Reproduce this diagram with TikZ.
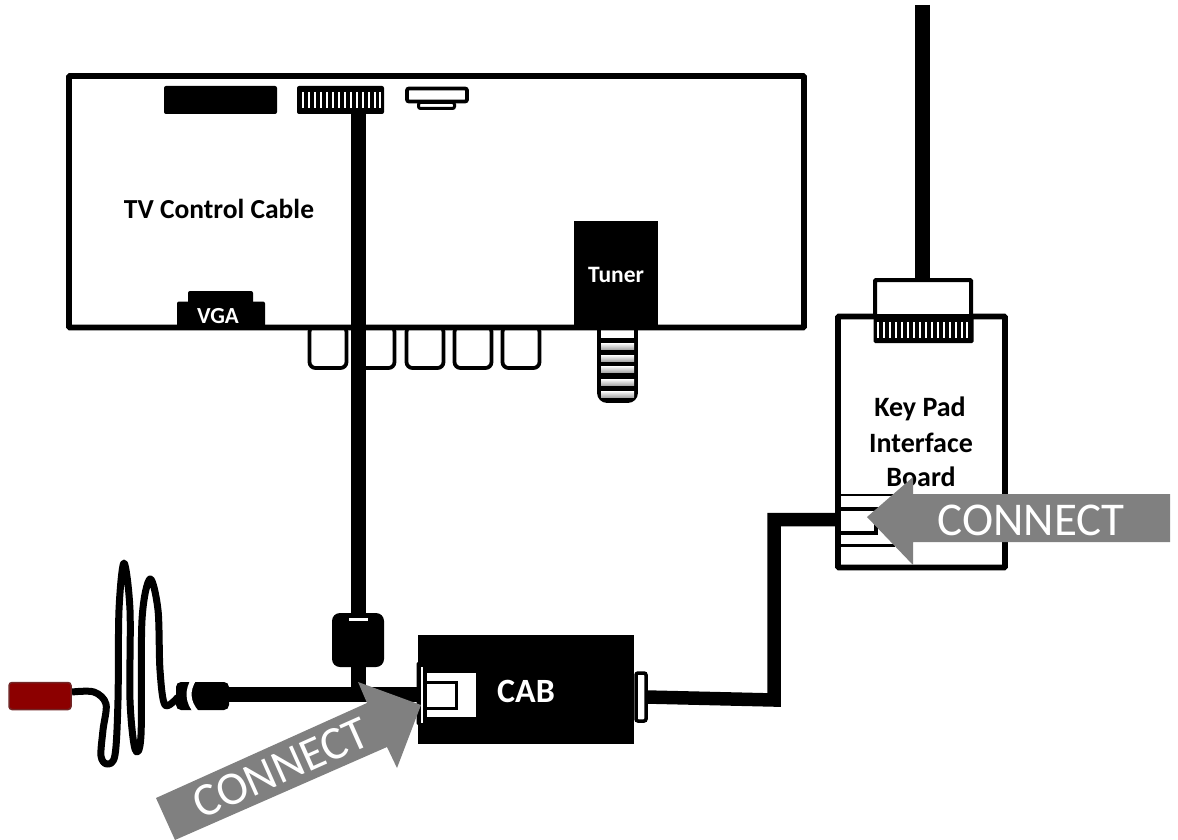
\documentclass[tikz,border=0pt]{standalone}
\usepackage{fontspec}
\setmainfont{Carlito}
\begin{document}
\begin{tikzpicture}[x=1pt,y=-1pt,
  every node/.style={outer sep=0pt,inner sep=0pt},
  frame/.style={draw=black,line width=5.8pt,fill=white,rounded corners=1pt},
  solid box/.style={fill=black,rounded corners=2pt},
  btn/.style={draw=black,line width=3.8pt,fill=white,rounded corners=6pt,minimum width=37pt,minimum height=42pt},
  cable/.style={draw=black,line width=15pt},
  label/.style={font=\bfseries,text=black},
  wlabel/.style={font=\bfseries,text=white},
  arrowshape/.style={fill=gray!100!black,draw=none},
  tick/.style={draw=white,line width=1.5pt},
  connect/.style={text=white,font=\fontsize{47}{47}\selectfont}
]
\useasboundingbox (0,0) rectangle (1178,840);
\fill[white] (0,0) rectangle (1178,840);

% buttons under the board
\foreach \n/\x in {a/328,b/376,c/425,d/473,e/521}
  \node[btn] (btn\n) at (\x,347) {};

% tuner grip
\node[draw=black,line width=3.8pt,fill=black,rounded corners=8pt,minimum width=37pt,minimum height=80pt] (grip) at (617.5,361) {};
\fill[white] (601,328) rectangle (634,338);
\foreach \y in {346,358,369,382,394}
  \shade[top color=white,bottom color=gray!65] (601,\y-3) rectangle (634,\y+3);

% main board
\node[frame,minimum width=735pt,minimum height=251.5pt] (board) at (436.5,201.7) {};
\node[solid box,minimum width=113pt,minimum height=28pt] (slot) at (220.5,100) {};
\node[solid box,minimum width=87pt,minimum height=28pt] (ribbon) at (340.5,100) {};
\foreach \x in {303,309,315,321,327,333,339,345,351,357,363,369,375,380}
  \draw[tick] (\x,92) -- (\x,108);
\node[draw=black,line width=3pt,fill=white,rounded corners=2pt,minimum width=36pt,minimum height=6pt] (hdmib) at (436.5,105.5) {};
\node[draw=black,line width=3.8pt,fill=white,rounded corners=2pt,minimum width=60pt,minimum height=13pt] (hdmi) at (437,95) {};

\node[label,font=\bfseries\fontsize{27.5}{27.5}\selectfont] (tvlabel) at (219,209) {TV Control Cable};

% tuner
\node[fill=black,minimum width=84pt,minimum height=107pt] (tuner) at (616,274.5) {};
\node[wlabel,font=\bfseries\fontsize{23.5}{23.5}\selectfont] (tunerlabel) at (616,275) {Tuner};

% VGA
\node[solid box,minimum width=65pt,minimum height=30pt] (vgatop) at (220.5,306) {};
\node[solid box,minimum width=88pt,minimum height=27pt] (vga) at (221,315) {};
\node[wlabel,font=\bfseries\fontsize{23}{23}\selectfont] (vgalabel) at (218,316.5) {VGA};

% plug on the control cable
\node[fill=black,rounded corners=8pt,minimum width=52pt,minimum height=54pt] (plug) at (358,640) {};
\fill[white] (349,618) rectangle (368,620.5);
\coordinate (mainjoin) at (358,694.5);
\draw[cable] (plug.north |- ribbon.south) -- (plug.north);
\draw[cable] (plug.south) -- (mainjoin);

% CAB box
\node[fill=black,minimum width=216pt,minimum height=109pt] (cab) at (526,689.5) {};
\node[fill=black,rounded corners=2pt,minimum width=7pt,minimum height=63pt] (cabl) at (420,693.5) {};
\draw[white,line width=1.8pt] (422,667) -- (422,723);
\node[fill=white,minimum width=49pt,minimum height=44pt] (cabport) at (451.5,695) {};
\draw[black,line width=3pt] (427,682.5) -- (456,682.5) -- (456,708) -- (427,708);
\node[draw=black,line width=3.5pt,fill=white,rounded corners=2pt,minimum width=10pt,minimum height=48pt] (cabr) at (641,697) {};
\node[wlabel,font=\bfseries\fontsize{34}{34}\selectfont] (cablabel) at (526,691) {CAB};

% coax and coil
\node[fill=black,rounded corners=5pt,minimum width=53pt,minimum height=28pt] (coax) at (202.5,696) {};
\draw[white,line width=5pt] (194,679) .. controls (187,690) and (187,702) .. (197,713);
\draw[cable] (coax.east |- mainjoin) -- (cabl.west |- mainjoin);
\draw[black,line width=7pt,line join=round] plot[smooth,tension=.55] coordinates {
  (72,692) (94,692) (106,704) (103,730) (101,756) (107,764) (115,755) (118,700)
  (119,610) (124,563) (130,610) (130,700) (135,749) (141,735) (142,620) (150,579)
  (158,610) (160,670) (165,705) (178,697)};
\node[draw=red!35!black!85,line width=1.5pt,fill=red!55!black,rounded corners=3pt,minimum width=62pt,minimum height=27pt] (jack) at (40,696) {};

% key pad board
\draw[cable] (922.5,5) coordinate (keytop) -- (922.5,282);
\node[frame,minimum width=167pt,minimum height=251pt] (kboard) at (921.5,442) {};
\node[draw=black,line width=4pt,fill=white,rounded corners=1pt,minimum width=96pt,minimum height=36pt] (khead) at (923,298) {};
\node[fill=black,rounded corners=1.5pt,minimum width=100pt,minimum height=28pt] (kribbon) at (923.5,329) {};
\foreach \x in {878,884,890,896,902,908,914,920,926,932,938,944,950,956,962,967}
  \draw[tick] (\x,322) -- (\x,338);
\draw[black,line width=2pt] (838,495) -- (895,495);
\draw[black,line width=3pt] (838,545) -- (895,545);
\draw[black,line width=4pt] (838,509) -- (876,509) -- (876,533) -- (838,533);
\node[label,font=\bfseries\fontsize{28}{28}\selectfont] (k1) at (920,409) {Key Pad};
\node[label,font=\bfseries\fontsize{28}{28}\selectfont] (k2) at (921,443) {Interface};
\node[label,font=\bfseries\fontsize{28}{28}\selectfont] (k3) at (921,477) {Board};

% cable from CAB to key pad
\coordinate (bend) at (774,700);
\coordinate (kport) at (836,519.5);
\draw[draw=black,line width=13.5pt,line join=miter] (cabr.east) -- (bend) -- (bend |- kport) -- (kport);

% grey arrows
\fill[arrowshape] (1170,494) -- (913,494) -- (913,477) -- (867,517) -- (913,565) -- (913,542) -- (1170,542) -- cycle;
\node[connect] (conn1) at (1031,520) {CONNECT};
\fill[arrowshape] (156,798) -- (367,703) -- (358,682) -- (421,705) -- (397,768) -- (387,747) -- (175,840) -- cycle;
\node[connect,rotate=24] (conn2) at (281,768) {CONNECT};
\end{tikzpicture}
\end{document}
